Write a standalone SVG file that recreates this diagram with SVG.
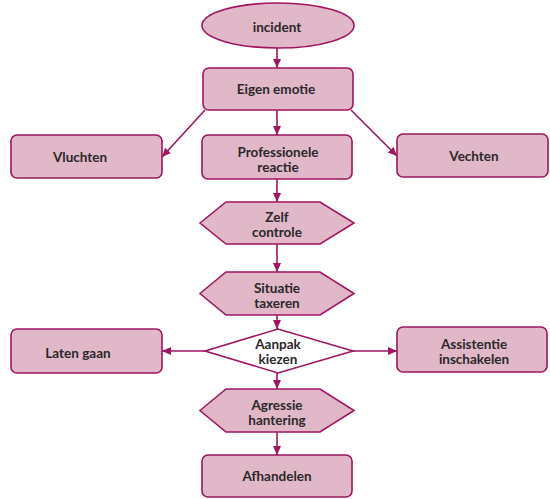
<svg xmlns="http://www.w3.org/2000/svg" width="550" height="499" viewBox="0 0 550 499">
<defs>
<marker id="ah" markerUnits="userSpaceOnUse" markerWidth="10" markerHeight="10" viewBox="0 0 10 10" refX="9" refY="5" orient="auto">
<path d="M0,1 L9,5 L0,9 Z" fill="#9e1560"/>
</marker>
<style>
.n{fill:#e0b8c8;stroke:#9e1560;stroke-width:1.6}
.d{fill:#ffffff;stroke:#9e1560;stroke-width:1.6}
.t{font-family:Lato,"Open Sans","Liberation Sans",sans-serif;font-weight:700;font-size:13.5px;fill:#2b272a;text-anchor:middle}
.c{stroke:#9e1560;stroke-width:1.6;fill:none;marker-end:url(#ah)}
</style>
</defs>
<rect width="550" height="499" fill="#ffffff"/>
<g id="connectors">
<line class="c" x1="277" y1="48" x2="277" y2="68"/>
<line class="c" x1="277" y1="110" x2="277" y2="135"/>
<line class="c" x1="205" y1="110" x2="162" y2="157"/>
<line class="c" x1="351" y1="110" x2="397" y2="156"/>
<line class="c" x1="277" y1="179" x2="277" y2="202"/>
<line class="c" x1="277" y1="244" x2="277" y2="272"/>
<line class="c" x1="277" y1="315" x2="277" y2="329"/>
<line class="c" x1="205" y1="351" x2="162" y2="351"/>
<line class="c" x1="353" y1="351" x2="397" y2="351"/>
<line class="c" x1="277" y1="373" x2="277" y2="389"/>
<line class="c" x1="277" y1="432" x2="277" y2="455"/>
</g>
<g id="incident">
<ellipse class="n" cx="278" cy="25.5" rx="76" ry="22.5"/>
<text class="t" x="277" y="32">incident</text>
</g>
<g id="eigen-emotie">
<rect class="n" x="203" y="68" width="150" height="42" rx="6"/>
<text class="t" x="276" y="93.5">Eigen emotie</text>
</g>
<g id="vluchten">
<rect class="n" x="11" y="135" width="151" height="43" rx="6"/>
<text class="t" x="80" y="161.5">Vluchten</text>
</g>
<g id="professionele-reactie">
<rect class="n" x="202" y="135" width="150" height="44" rx="6"/>
<text class="t" x="278" y="157">Professionele</text>
<text class="t" x="278" y="172">reactie</text>
</g>
<g id="vechten">
<rect class="n" x="397" y="134" width="151" height="43" rx="6"/>
<text class="t" x="474" y="161">Vechten</text>
</g>
<g id="zelf-controle">
<polygon class="n" points="200,223 226,202 320,202 354,223 320,244 226,244"/>
<text class="t" x="277" y="222">Zelf</text>
<text class="t" x="277" y="237">controle</text>
</g>
<g id="situatie-taxeren">
<polygon class="n" points="200,293.5 226,272 320,272 354,293.5 320,315 226,315"/>
<text class="t" x="277" y="292.5">Situatie</text>
<text class="t" x="277" y="307.5">taxeren</text>
</g>
<g id="aanpak-kiezen">
<polygon class="d" points="205,351 278,329 353,351 278,373"/>
<text class="t" x="278" y="349">Aanpak</text>
<text class="t" x="278" y="364">kiezen</text>
</g>
<g id="laten-gaan">
<rect class="n" x="11" y="329" width="151" height="44" rx="6"/>
<text class="t" x="78" y="357.5">Laten gaan</text>
</g>
<g id="assistentie-inschakelen">
<rect class="n" x="397" y="327" width="150" height="45" rx="6"/>
<text class="t" x="474" y="349">Assistentie</text>
<text class="t" x="474" y="364">inschakelen</text>
</g>
<g id="agressie-hantering">
<polygon class="n" points="200,410.5 226,389 320,389 354,410.5 320,432 226,432"/>
<text class="t" x="277" y="409.5">Agressie</text>
<text class="t" x="277" y="424.5">hantering</text>
</g>
<g id="afhandelen">
<rect class="n" x="202" y="455" width="150" height="42" rx="6"/>
<text class="t" x="277" y="480.5">Afhandelen</text>
</g>
</svg>
